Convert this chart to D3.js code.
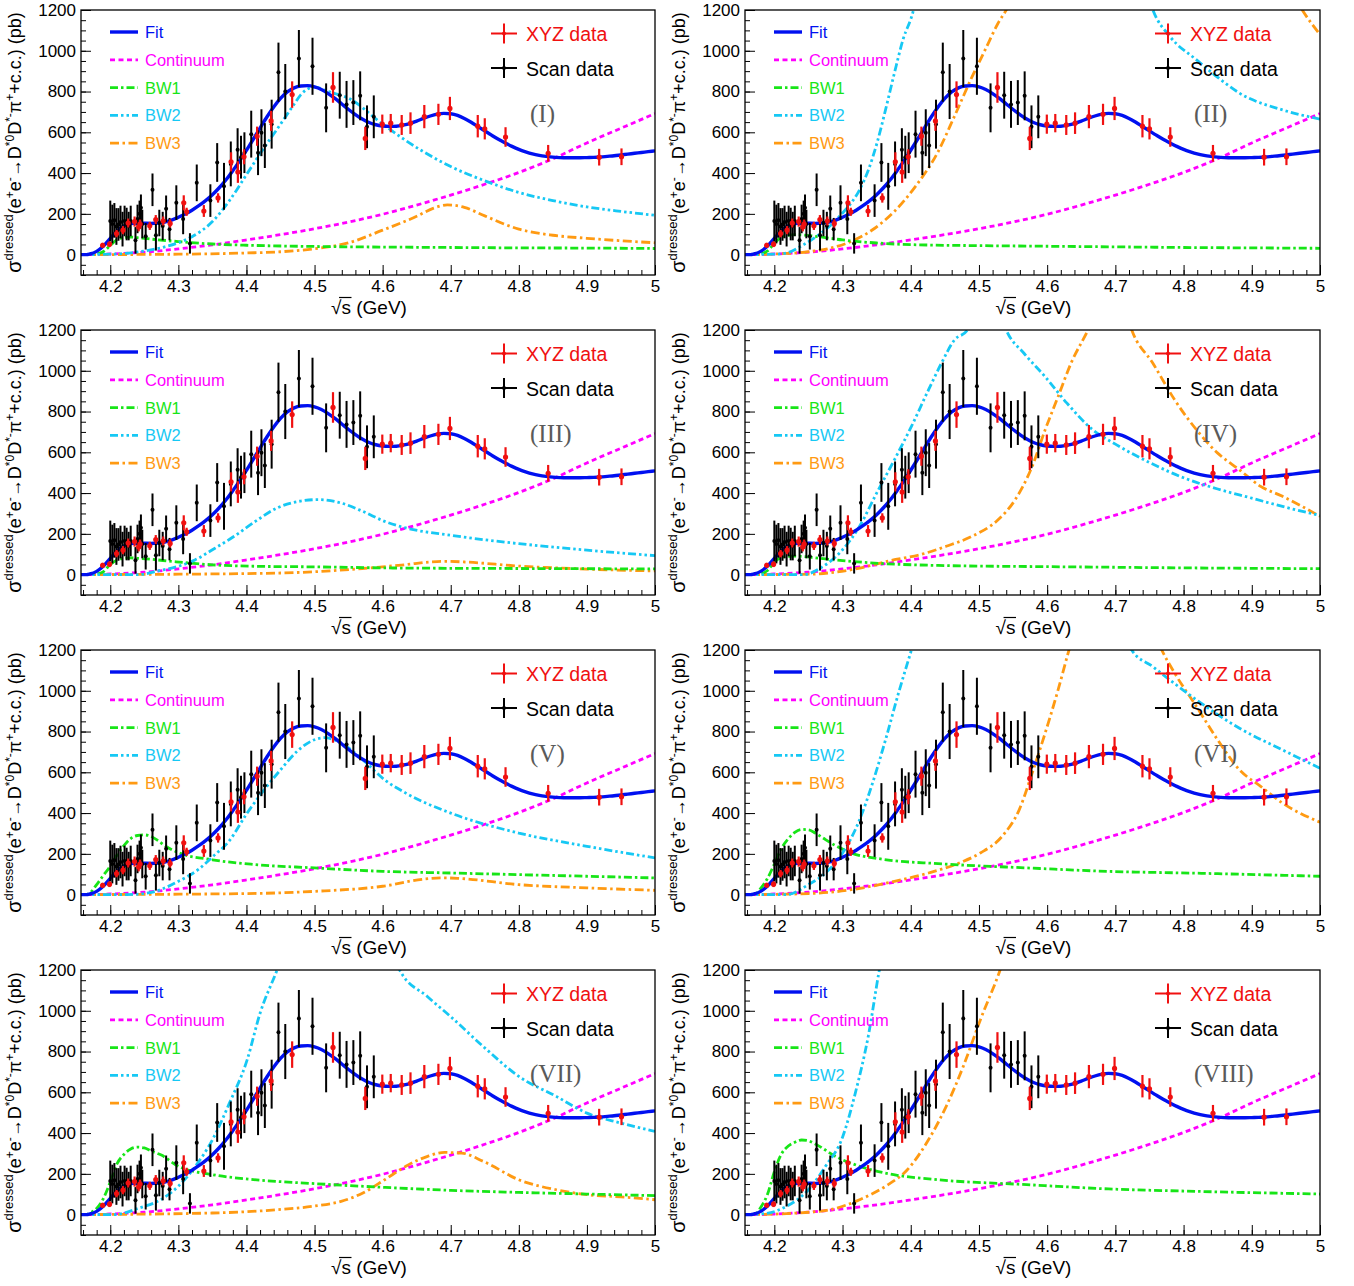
<!DOCTYPE html>
<html>
<head>
<meta charset="utf-8">
<script src="https://cdn.jsdelivr.net/npm/d3@7"></script>
<style>
  body { margin: 0; background: #fff; }
  svg text { font-family: "Liberation Sans", Arial, Helvetica, sans-serif; }
</style>
</head>
<body>
<svg id="fig" width="1354" height="1286"></svg>
<script>
// ---------------- data ----------------
// XYZ data: energy (GeV), dressed cross section (pb), error (pb)
const xyzE   = [4.1888, 4.1989, 4.2092, 4.2187, 4.2263, 4.2357, 4.2417, 4.2438, 4.2580, 4.2668, 4.2777, 4.2879,
                4.3079, 4.3121, 4.3374, 4.3583, 4.3774, 4.3874, 4.3964, 4.4156, 4.4362, 4.4671, 4.5271,
                4.5745, 4.5995, 4.6119, 4.6280, 4.6409, 4.6612, 4.6819, 4.6988, 4.7397, 4.7500, 4.7805,
                4.8431, 4.9180, 4.9508];
const xyzSig = [46, 51, 103, 120, 155, 162, 136, 150, 141, 172, 165, 153,
                254, 210, 214, 278, 455, 405, 480, 581, 656, 785, 820,
                570, 640, 645, 636, 645, 677, 688, 717, 630, 617, 577,
                497, 478, 480];
const xyzErr = [12, 14, 18, 20, 22, 25, 22, 22, 20, 22, 22, 20,
                37, 20, 29, 23, 47, 53, 37, 47, 49, 65, 75,
                57, 47, 45, 49, 53, 57, 52, 57, 55, 52, 48,
                41, 41, 41];

// Scan data
const scanE   = [4.2000, 4.2030, 4.2060, 4.2090, 4.2120, 4.2150, 4.2180, 4.2210, 4.2240, 4.2270, 4.2300,
                 4.2370, 4.2400, 4.2430, 4.2450, 4.2470, 4.2520, 4.2620, 4.2670, 4.2720, 4.2770, 4.2820,
                 4.2870, 4.2970, 4.3070, 4.3170, 4.3270, 4.3470, 4.3570, 4.3670, 4.3770, 4.3870, 4.3920,
                 4.3970, 4.4070, 4.4170, 4.4220, 4.4270, 4.4370, 4.4470, 4.4570, 4.4770, 4.4970, 4.5170,
                 4.5370, 4.5470, 4.5570, 4.5670, 4.5770, 4.5870];
const scanSig = [165, 150, 168, 138, 148, 160, 125, 165, 150, 140, 165,
                 70, 175, 200, 230, 150, 90, 318, 95, 155, 140, 225,
                 125, 255, 175, 55, 352, 265, 452, 335, 445, 515, 478,
                 500, 591, 500, 598, 535, 640, 895, 800, 962, 924, 720,
                 782, 737, 746, 779, 627, 676];
const scanErr = [100, 95, 85, 90, 80, 80, 85, 75, 80, 70, 75,
                 65, 70, 65, 65, 70, 65, 80, 75, 65, 70, 65,
                 55, 85, 75, 50, 90, 80, 95, 115, 110, 105, 105,
                 100, 115, 110, 115, 110, 120, 145, 135, 140, 140, 120,
                 115, 115, 110, 120, 105, 105];

// Total fit (same in every solution)
const fitCurve = [[4.157,0],[4.165,0],[4.17,3],[4.18,16],[4.19,42],[4.20,80],[4.21,116],[4.22,141],[4.23,152],
  [4.24,155],[4.25,154],[4.26,153],[4.27,155],[4.28,160],[4.29,169],[4.30,183],[4.31,199],[4.32,218],
  [4.33,240],[4.34,265],[4.35,294],[4.36,328],[4.37,367],[4.38,412],[4.39,460],[4.40,512],[4.41,566],
  [4.42,621],[4.43,675],[4.44,724],[4.45,766],[4.46,798],[4.47,818],[4.48,827],[4.49,829],[4.50,823],
  [4.51,810],[4.52,790],[4.53,766],[4.54,739],[4.55,712],[4.56,687],[4.57,665],[4.58,648],[4.59,637],
  [4.60,631],[4.61,629],[4.62,630],[4.63,635],[4.64,643],[4.65,655],[4.66,668],[4.67,680],[4.68,689],
  [4.69,693],[4.70,691],[4.71,683],[4.72,668],[4.73,649],[4.74,628],[4.75,607],[4.76,586],[4.77,566],
  [4.78,548],[4.79,531],[4.80,516],[4.81,504],[4.82,494],[4.83,487],[4.84,482],[4.85,478],[4.86,476],
  [4.87,475],[4.88,475],[4.89,475],[4.90,476],[4.91,477],[4.92,479],[4.93,482],[4.94,485],[4.95,489],
  [4.96,493],[4.97,497],[4.98,501],[4.99,505],[5.00,509]];

// Continuum
const continuum = [[4.157,0],[4.17,0],[4.20,3],[4.25,12],[4.30,28],[4.35,48],[4.40,72],[4.45,98],[4.50,127],
  [4.55,160],[4.60,198],[4.65,243],[4.70,292],[4.75,345],[4.80,403],[4.85,470],[4.90,548],[4.95,620],[5.00,692]];

// Resonance components for each of the eight solutions (null = leaves the frame)
const bw1_I = [[4.157,0],[4.17,0],[4.18,3],[4.19,15],[4.20,45],[4.21,74],[4.22,84],[4.23,86],[4.24,83],[4.26,76],
  [4.30,64],[4.35,52],[4.40,46],[4.50,40],[4.60,37],[4.70,35],[4.80,33],[4.90,32],[5.00,30]];
const bw2_I = [[4.157,0],[4.20,2],[4.25,18],[4.28,38],[4.30,58],[4.32,88],[4.35,162],[4.375,265],[4.40,392],
  [4.42,495],[4.45,640],[4.47,738],[4.48,785],[4.50,822],[4.52,800],[4.55,767],[4.60,640],[4.65,525],
  [4.70,432],[4.75,362],[4.80,305],[4.85,265],[4.90,234],[4.95,212],[5.00,193]];
const bw3_I = [[4.157,0],[4.30,2],[4.40,8],[4.45,14],[4.50,29],[4.55,58],[4.60,120],[4.65,188],[4.675,228],
  [4.695,244],[4.72,232],[4.75,190],[4.80,125],[4.85,95],[4.90,80],[4.95,68],[5.00,58]];

const bw1_II = [[4.157,0],[4.17,0],[4.18,4],[4.19,18],[4.20,55],[4.21,85],[4.22,95],[4.23,98],[4.24,97],[4.26,90],
  [4.30,72],[4.35,57],[4.40,49],[4.50,44],[4.60,41],[4.70,38],[4.80,35],[4.90,33],[5.00,31]];
const bw2_II = [[4.157,0],[4.20,2],[4.218,8],[4.243,49],[4.262,90],[4.281,139],[4.30,204],[4.3126,253],[4.325,318],
  [4.338,416],[4.3505,547],[4.363,710],[4.376,890],[4.3885,1053],[4.404,1200],[4.41,1290], null,
  [4.745,1300],[4.755,1200],[4.78,1070],[4.819,955],[4.85,870],[4.882,792],[4.945,710],[5.00,665]];
const bw3_II = [[4.157,0],[4.20,3],[4.25,14],[4.28,30],[4.313,65],[4.344,122],[4.376,212],[4.407,335],[4.439,498],
  [4.464,678],[4.49,873],[4.509,1004],[4.528,1135],[4.54,1200],[4.55,1260], null,
  [4.96,1280],[4.974,1200],[5.00,1080]];

const bw1_III = [[4.157,0],[4.17,0],[4.18,3],[4.19,15],[4.20,50],[4.21,72],[4.22,80],[4.23,82],[4.24,80],[4.26,75],
  [4.29,65],[4.35,48],[4.41,41],[4.50,38],[4.60,33],[4.70,31],[4.80,30],[4.90,29],[5.00,28]];
const bw2_III = [[4.157,0],[4.24,0],[4.274,21],[4.30,41],[4.325,73],[4.35,122],[4.382,188],[4.413,261],[4.445,327],
  [4.476,359],[4.505,368],[4.539,351],[4.571,310],[4.603,261],[4.634,229],[4.70,193],[4.80,152],[4.90,120],[5.00,93]];
const bw3_III = [[4.157,0],[4.40,5],[4.50,14],[4.57,30],[4.634,49],[4.67,62],[4.69,65],[4.72,62],[4.80,42],
  [4.90,27],[5.00,18]];

const bw1_IV = [[4.157,0],[4.17,0],[4.18,4],[4.19,20],[4.20,60],[4.21,84],[4.22,90],[4.23,91],[4.24,89],[4.28,75],
  [4.34,58],[4.44,45],[4.60,39],[4.70,36],[4.80,33],[4.90,31],[5.00,29]];
const bw2_IV = [[4.157,0],[4.243,0],[4.268,33],[4.30,122],[4.325,237],[4.35,400],[4.376,563],[4.401,727],[4.426,906],
  [4.445,1037],[4.464,1151],[4.483,1200],[4.49,1260], null,
  [4.53,1290],[4.54,1200],[4.566,1086],[4.597,971],[4.629,841],[4.667,710],[4.70,640],[4.75,550],[4.80,475],
  [4.85,420],[4.90,375],[4.95,330],[5.00,290]];
const bw3_IV = [[4.157,0],[4.25,2],[4.313,24],[4.376,73],[4.414,98],[4.452,139],[4.49,188],[4.528,269],[4.553,367],
  [4.578,531],[4.597,710],[4.616,873],[4.635,1037],[4.66,1200],[4.67,1270], null,
  [4.715,1290],[4.724,1200],[4.755,1037],[4.787,857],[4.819,710],[4.85,596],[4.882,514],[4.913,433],[4.945,384],[5.00,286]];

const bw1_V = [[4.157,0],[4.165,0],[4.17,8],[4.18,49],[4.19,95],[4.20,139],[4.21,195],[4.22,240],[4.23,275],[4.24,290],
  [4.25,293],[4.26,285],[4.27,265],[4.28,240],[4.30,206],[4.35,171],[4.41,148],[4.50,131],[4.60,114],[4.70,106],
  [4.80,98],[4.90,90],[5.00,82]];
const bw2_V = [[4.157,0],[4.224,0],[4.256,8],[4.30,65],[4.33,125],[4.35,185],[4.375,265],[4.40,395],[4.425,510],
  [4.45,612],[4.475,705],[4.50,760],[4.515,770],[4.539,743],[4.571,661],[4.603,563],[4.634,498],[4.70,400],
  [4.80,302],[4.90,237],[5.00,180]];
const bw3_V = [[4.157,0],[4.40,5],[4.50,16],[4.60,41],[4.663,77],[4.69,82],[4.71,80],[4.80,49],[4.90,33],[5.00,21]];

const bw1_VI = [[4.157,0],[4.165,0],[4.173,5],[4.18,30],[4.19,80],[4.20,150],[4.21,225],[4.22,272],[4.23,305],[4.24,320],
  [4.25,318],[4.26,302],[4.275,270],[4.29,240],[4.31,208],[4.36,173],[4.44,152],[4.57,131],[4.69,114],[4.82,105],[5.00,90]];
const bw2_VI = [[4.157,0],[4.218,0],[4.25,49],[4.275,106],[4.30,204],[4.325,367],[4.344,547],[4.363,759],[4.382,988],
  [4.401,1200],[4.41,1300], null,
  [4.71,1320],[4.724,1200],[4.755,1118],[4.819,955],[4.882,816],[4.945,710],[5.00,620]];
const bw3_VI = [[4.157,0],[4.25,5],[4.313,24],[4.376,65],[4.426,106],[4.471,155],[4.502,204],[4.534,286],[4.559,416],
  [4.578,596],[4.597,792],[4.616,1004],[4.632,1200],[4.64,1290], null,
  [4.755,1300],[4.768,1200],[4.787,1086],[4.819,922],[4.85,759],[4.882,612],[4.913,531],[4.945,449],[5.00,355]];

const bw1_VII = [[4.157,0],[4.165,0],[4.17,8],[4.18,30],[4.19,80],[4.20,160],[4.21,250],[4.22,295],[4.23,322],[4.24,331],
  [4.25,327],[4.26,312],[4.275,292],[4.30,237],[4.35,196],[4.41,172],[4.50,152],[4.60,134],[4.70,119],[4.80,109],
  [4.90,101],[5.00,93]];
const bw2_VII = [[4.157,0],[4.205,0],[4.243,33],[4.274,73],[4.30,139],[4.325,237],[4.35,367],[4.375,547],[4.401,759],
  [4.42,988],[4.445,1200],[4.455,1290], null,
  [4.61,1330],[4.625,1200],[4.666,1069],[4.70,971],[4.748,824],[4.80,678],[4.855,580],[4.90,498],[4.95,449],[5.00,408]];
const bw3_VII = [[4.157,0],[4.35,8],[4.445,24],[4.498,41],[4.539,65],[4.571,106],[4.603,171],[4.634,237],[4.666,286],
  [4.691,305],[4.716,302],[4.748,261],[4.80,171],[4.855,122],[4.90,98],[4.95,87],[5.00,73]];

const bw1_VIII = [[4.157,0],[4.165,0],[4.173,5],[4.18,35],[4.19,100],[4.20,210],[4.21,295],[4.22,335],[4.23,355],[4.24,366],
  [4.25,362],[4.26,347],[4.29,285],[4.325,237],[4.375,196],[4.44,171],[4.57,147],[4.69,126],[4.82,114],[5.00,101]];
const bw2_VIII = [[4.157,0],[4.186,5],[4.218,41],[4.25,122],[4.275,237],[4.30,380],[4.319,600],[4.338,880],[4.354,1200],[4.36,1300]];
const bw3_VIII = [[4.157,0],[4.218,5],[4.281,24],[4.325,73],[4.363,139],[4.395,220],[4.426,367],[4.452,531],[4.477,727],
  [4.502,955],[4.531,1200],[4.54,1290]];

const solutionLabels = ["(I)", "(II)", "(III)", "(IV)", "(V)", "(VI)", "(VII)", "(VIII)"];
const bw1Sets = [bw1_I, bw1_II, bw1_III, bw1_IV, bw1_V, bw1_VI, bw1_VII, bw1_VIII];
const bw2Sets = [bw2_I, bw2_II, bw2_III, bw2_IV, bw2_V, bw2_VI, bw2_VII, bw2_VIII];
const bw3Sets = [bw3_I, bw3_II, bw3_III, bw3_IV, bw3_V, bw3_VI, bw3_VII, bw3_VIII];

const xTicks = [4.2, 4.3, 4.4, 4.5, 4.6, 4.7, 4.8, 4.9, 5.0];
const yTicks = [0, 200, 400, 600, 800, 1000, 1200];
const legendNames = ["Fit", "Continuum", "BW1", "BW2", "BW3"];
const dataLegend = ["XYZ data", "Scan data"];

// ---------------- styles ----------------
const styles = {
  fit:  { color: "#0010f0", width: 3.4, dash: null },
  cont: { color: "#ff00ff", width: 2.8, dash: "5,3.5" },
  bw1:  { color: "#17e517", width: 2.8, dash: "8,3,2.5,3" },
  bw2:  { color: "#16c8f4", width: 2.8, dash: "8,3,2.5,3,2.5,3" },
  bw3:  { color: "#ff9a12", width: 2.8, dash: "9,3.5,2.5,3.5" }
};
const legendStyles = [styles.fit, styles.cont, styles.bw1, styles.bw2, styles.bw3];

// ---------------- layout ----------------
const colX = [[81, 655], [745, 1320]];
const rowTop = [10, 330, 650, 970];
const plotH = 265;

const svg = d3.select("#fig");
const xDomain = [4.157, 5.0];
const yDomain = [-100, 1200];

solutionLabels.forEach((lab, i) => {
  const col = i % 2, row = Math.floor(i / 2);
  const [x0, x1] = colX[col];
  const top = rowTop[row], bottom = top + plotH;
  const x = d3.scaleLinear().domain(xDomain).range([x0, x1]);
  const y = d3.scaleLinear().domain(yDomain).range([bottom, top]);
  const g = svg.append("g");

  const clipId = "clip" + i;
  g.append("clipPath").attr("id", clipId).append("rect")
    .attr("x", x0).attr("y", top).attr("width", x1 - x0).attr("height", plotH);

  // axes: ticks pointing inward, no domain line
  const xa = g.append("g").attr("transform", `translate(0,${bottom})`)
    .call(d3.axisBottom(x).tickValues(xTicks).tickSizeInner(-10).tickSizeOuter(0).tickPadding(5)
      .tickFormat(d3.format("~g")));
  const xm = g.append("g").attr("transform", `translate(0,${bottom})`)
    .call(d3.axisBottom(x).tickValues(d3.range(4.16, 5.001, 0.02)).tickSizeInner(-5).tickSizeOuter(0).tickFormat(""));
  const ya = g.append("g").attr("transform", `translate(${x0},0)`)
    .call(d3.axisLeft(y).tickValues(yTicks).tickSizeInner(-10).tickSizeOuter(0).tickPadding(5)
      .tickFormat(d3.format("d")));
  const ym = g.append("g").attr("transform", `translate(${x0},0)`)
    .call(d3.axisLeft(y).tickValues(d3.range(-100, 1201, 50)).tickSizeInner(-5).tickSizeOuter(0).tickFormat(""));
  [xa, xm, ya, ym].forEach(a => {
    a.select(".domain").remove();
    a.selectAll("line").attr("stroke", "#000").attr("stroke-width", 1);
    a.selectAll("text").attr("fill", "#000").attr("font-size", 17);
  });

  // x-axis title with a bar over the s of the square root
  const xt = g.append("text").attr("x", (x0 + x1) / 2 + 1).attr("y", bottom + 39)
    .attr("text-anchor", "middle").attr("font-size", 19).attr("fill", "#000")
    .text("\u221As (GeV)");
  const xtNode = xt.node();
  const sStart = xtNode.getStartPositionOfChar(1), sEnd = xtNode.getEndPositionOfChar(1);
  const rootStart = xtNode.getStartPositionOfChar(0);
  g.append("line")
    .attr("x1", rootStart.x + 8).attr("x2", sEnd.x + 0.5)
    .attr("y1", bottom + 39 - 16.5).attr("y2", bottom + 39 - 16.5)
    .attr("stroke", "#000").attr("stroke-width", 1.2);

  // y-axis title
  const yt = g.append("text")
    .attr("transform", `translate(${x0 - 60},${top + plotH / 2}) rotate(-90)`)
    .attr("text-anchor", "middle").attr("font-size", 18).attr("fill", "#000");
  const parts = [["\u03C3", 0, 20], ["dressed", -8, 13], ["(e", 8, 18], ["+", -7, 12], ["e", 7, 18], ["-", -7, 12],
    ["\u2192D", 7, 18], ["*0", -7, 12], ["D", 7, 18], ["*-", -7, 12], ["\u03C0", 7, 18], ["+", -7, 12],
    ["+c.c.) (pb)", 7, 18]];
  parts.forEach(([t, dy, fs]) => yt.append("tspan").attr("dy", dy).attr("font-size", fs).text(t));

  // curves
  const line = d3.line().defined(d => d != null)
    .x(d => x(d[0])).y(d => y(d[1])).curve(d3.curveMonotoneX);
  const curves = g.append("g").attr("clip-path", `url(#${clipId})`);
  const drawCurve = (data, st) => {
    curves.append("path").datum(data).attr("d", line).attr("fill", "none")
      .attr("stroke", st.color).attr("stroke-width", st.width)
      .attr("stroke-dasharray", st.dash).attr("stroke-linejoin", "round");
  };
  drawCurve(continuum, styles.cont);
  drawCurve(bw3Sets[i], styles.bw3);
  drawCurve(bw1Sets[i], styles.bw1);
  drawCurve(bw2Sets[i], styles.bw2);
  drawCurve(fitCurve, styles.fit);

  // data points with error bars
  const pts = g.append("g").attr("clip-path", `url(#${clipId})`);
  const drawPoints = (E, S, Err, color, r, w) => {
    const grp = pts.append("g");
    grp.selectAll("line").data(E).join("line")
      .attr("x1", (d) => x(d)).attr("x2", (d) => x(d))
      .attr("y1", (d, k) => y(S[k] - Err[k])).attr("y2", (d, k) => y(S[k] + Err[k]))
      .attr("stroke", color).attr("stroke-width", w);
    grp.selectAll("circle").data(E).join("circle")
      .attr("cx", (d) => x(d)).attr("cy", (d, k) => y(S[k])).attr("r", r).attr("fill", color);
  };
  drawPoints(scanE, scanSig, scanErr, "#000", 2, 2);
  drawPoints(xyzE, xyzSig, xyzErr, "#f01010", 2.6, 2.2);

  // frame
  g.append("rect").attr("x", x0).attr("y", top).attr("width", x1 - x0).attr("height", plotH)
    .attr("fill", "none").attr("stroke", "#000").attr("stroke-width", 1.3);

  // curve legend
  legendNames.forEach((name, k) => {
    const cy = top + 22 + k * 27.8;
    const st = legendStyles[k];
    g.append("line").attr("x1", x0 + 29).attr("x2", x0 + 57).attr("y1", cy).attr("y2", cy)
      .attr("stroke", st.color).attr("stroke-width", st.width).attr("stroke-dasharray", st.dash);
    g.append("text").attr("x", x0 + 64).attr("y", cy).attr("dominant-baseline", "central")
      .attr("font-size", 16.5).attr("fill", st.color).text(name);
  });

  // data legend
  dataLegend.forEach((name, k) => {
    const cy = top + 23.5 + k * 34.5;
    const cx = x0 + 423;
    const color = k === 0 ? "#f01010" : "#000";
    g.append("line").attr("x1", cx - 13).attr("x2", cx + 13).attr("y1", cy).attr("y2", cy)
      .attr("stroke", color).attr("stroke-width", 2);
    g.append("line").attr("x1", cx).attr("x2", cx).attr("y1", cy - 10).attr("y2", cy + 10)
      .attr("stroke", color).attr("stroke-width", 2);
    g.append("circle").attr("cx", cx).attr("cy", cy).attr("r", 2).attr("fill", color);
    g.append("text").attr("x", x0 + 445).attr("y", cy + 0.5).attr("dominant-baseline", "central")
      .attr("font-size", 19.5).attr("fill", color).text(name);
  });

  // solution label
  g.append("text").attr("x", x0 + 449).attr("y", top + 103).attr("dominant-baseline", "central")
    .style("font-family", "'Liberation Serif', 'Times New Roman', serif").attr("font-size", 25)
    .attr("fill", "#5a5a5a").text(lab);
});
</script>
</body>
</html>
